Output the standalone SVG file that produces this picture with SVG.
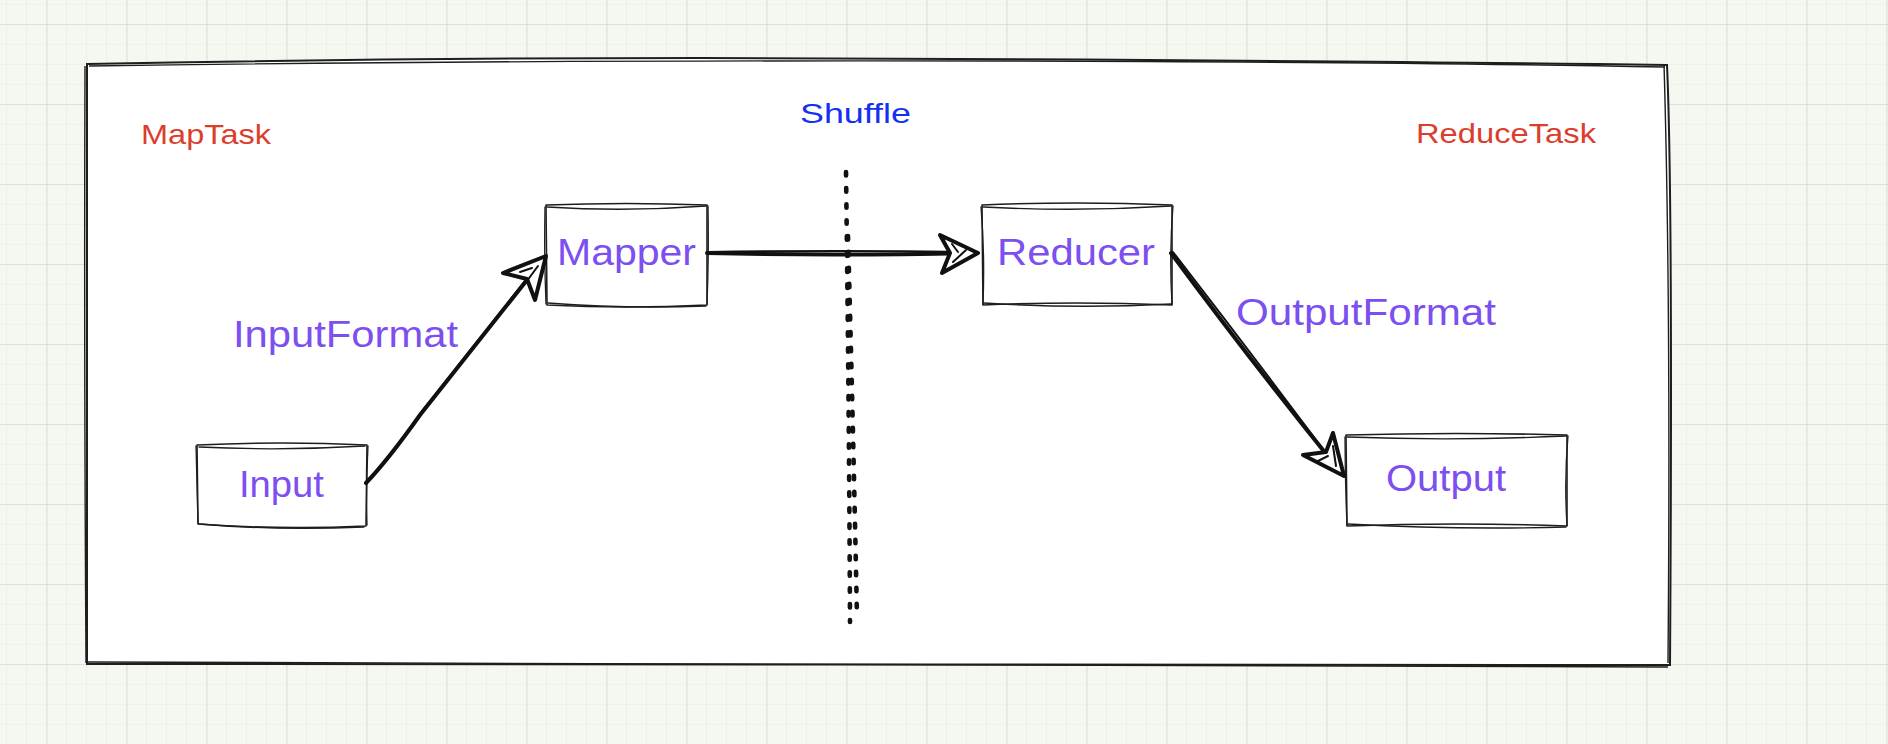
<svg xmlns="http://www.w3.org/2000/svg" width="1888" height="744" viewBox="0 0 1888 744">
<defs>
<pattern id="minor" x="6" y="4" width="20" height="20" patternUnits="userSpaceOnUse">
<path d="M0,0 H20 M0,0 V20" fill="none" stroke="#e6ebe3" stroke-width="1.2"/>
</pattern>
<pattern id="major" x="46.5" y="24" width="80" height="80" patternUnits="userSpaceOnUse">
<path d="M0,0 H80 M0,0 V80" fill="none" stroke="#cbd0ca" stroke-width="1.2"/>
</pattern>
<style>
.box{fill:#ffffff;stroke:#1e1e1e;stroke-width:1.6;stroke-linejoin:round}
.sk{fill:none;stroke:#1e1e1e;stroke-width:1.3;stroke-linecap:round}
.frame{fill:#ffffff;stroke:#1e1e1e;stroke-width:2}
.frame2{fill:none;stroke:#1e1e1e;stroke-width:1.4}
.edge{fill:none;stroke:#111;stroke-width:4;stroke-linecap:round;stroke-linejoin:round}
.edge2{fill:none;stroke:#111;stroke-width:2;stroke-linecap:round}
.head{fill:#ffffff;stroke:#111;stroke-width:4;stroke-linejoin:round}
.hatch{fill:none;stroke:#111;stroke-width:2;stroke-linecap:round}
.dots{fill:none;stroke:#111;stroke-width:4.6;stroke-linecap:round;stroke-dasharray:3.5 12.5}
.lbl{font-family:"Liberation Sans","DejaVu Sans",sans-serif;font-size:36px;fill:#7c4ff0}
.sec{font-family:"Liberation Sans","DejaVu Sans",sans-serif;font-size:28px;fill:#dc3e2c}
.shf{font-family:"Liberation Sans","DejaVu Sans",sans-serif;font-size:28px;fill:#1530ee}
</style>
</defs>
<rect x="0" y="0" width="1888" height="744" fill="#f4f8f0"/>
<rect x="0" y="0" width="1888" height="744" fill="url(#minor)"/>
<rect x="0" y="0" width="1888" height="744" fill="url(#major)"/>

<g id="frame">
<path class="frame" d="M87,64 Q400,58 700,58 Q1300,60 1667,65 Q1673,200 1670,665 L87,664 Q86,400 87,64 Z"/>
<path class="frame2" d="M89,66 Q500,60 1000,61 Q1400,62 1665,67 M1664,64 Q1671,300 1668,663 M1668,667 Q900,665 88,662 M85,66 Q84,350 86,663"/>
</g>

<g id="MapTask"><text class="sec" x="141" y="144" textLength="130" lengthAdjust="spacingAndGlyphs">MapTask</text></g>
<g id="Shuffle"><text class="shf" x="800" y="123" textLength="111" lengthAdjust="spacingAndGlyphs">Shuffle</text></g>
<g id="ReduceTask"><text class="sec" x="1416" y="143" textLength="180" lengthAdjust="spacingAndGlyphs">ReduceTask</text></g>

<g id="divider">
<path class="dots" d="M846,172 Q849,400 850,622"/>
<path class="dots" d="M848,236 Q853,420 857,618"/>
</g>

<g id="Input">
<path class="box" d="M197,445 Q282,441 367,445 L366,526 Q280,530 198,524 Z"/>
<path class="sk" d="M199,447 Q280,451 365,446 M199,524 Q280,531 364,527 M196,446 Q197,490 198,523 M368,446 Q366,490 367,525"/>
<text class="lbl" x="239" y="497" textLength="85" lengthAdjust="spacingAndGlyphs">Input</text>
</g>

<g id="Mapper">
<path class="box" d="M546,205 Q626,202 707,205 L707,305 Q626,309 547,305 Z"/>
<path class="sk" d="M547,207 Q626,212 706,206 M548,303 Q626,309 706,306 M545,207 Q544,255 546,304 M708,206 Q709,255 707,304"/>
<text class="lbl" x="557" y="265" textLength="139" lengthAdjust="spacingAndGlyphs">Mapper</text>
</g>

<g id="Reducer">
<path class="box" d="M982,205 Q1077,201 1172,205 L1172,305 Q1077,301 983,305 Z"/>
<path class="sk" d="M983,207 Q1077,212 1171,206 M984,303 Q1077,309 1171,304 M981,207 Q985,255 983,304 M1173,206 Q1169,255 1172,304"/>
<text class="lbl" x="997" y="265" textLength="158" lengthAdjust="spacingAndGlyphs">Reducer</text>
</g>

<g id="Output">
<path class="box" d="M1346,435 Q1456,432 1567,435 L1567,526 Q1456,522 1347,526 Z"/>
<path class="sk" d="M1347,437 Q1456,441 1566,436 M1348,524 Q1456,530 1566,527 M1345,437 Q1345,480 1347,525 M1568,436 Q1564,480 1567,525"/>
<text class="lbl" x="1386" y="491" textLength="120" lengthAdjust="spacingAndGlyphs">Output</text>
</g>

<g id="edge-labels">
<text class="lbl" x="233" y="347" textLength="225" lengthAdjust="spacingAndGlyphs">InputFormat</text>
<text class="lbl" x="1236" y="325" textLength="260" lengthAdjust="spacingAndGlyphs">OutputFormat</text>
</g>

<g id="connectors">
<path class="edge" d="M366,483 Q388,460 420,415 L542,261"/>
<path class="edge2" d="M367,481 Q392,455 422,411 L540,262"/>
<polygon class="head" points="546,256 503,273 527,279 535,300"/>
<path class="hatch" d="M520,272 L532,268 M524,285 L538,266"/>

<path class="edge" d="M707,253 Q830,256 972,253"/>
<path class="edge2" d="M708,252 Q840,250 970,252"/>
<polygon class="head" points="978,253 940,235 950,253 942,273"/>
<path class="hatch" d="M952,244 L958,252 M953,262 L966,250"/>

<path class="edge" d="M1171,253 Q1250,360 1339,470"/>
<path class="edge2" d="M1173,252 Q1255,358 1337,468"/>
<polygon class="head" points="1344,476 1303,455 1326,452 1333,433"/>
<path class="hatch" d="M1316,462 L1328,456 M1333,446 L1336,466"/>
</g>
</svg>
